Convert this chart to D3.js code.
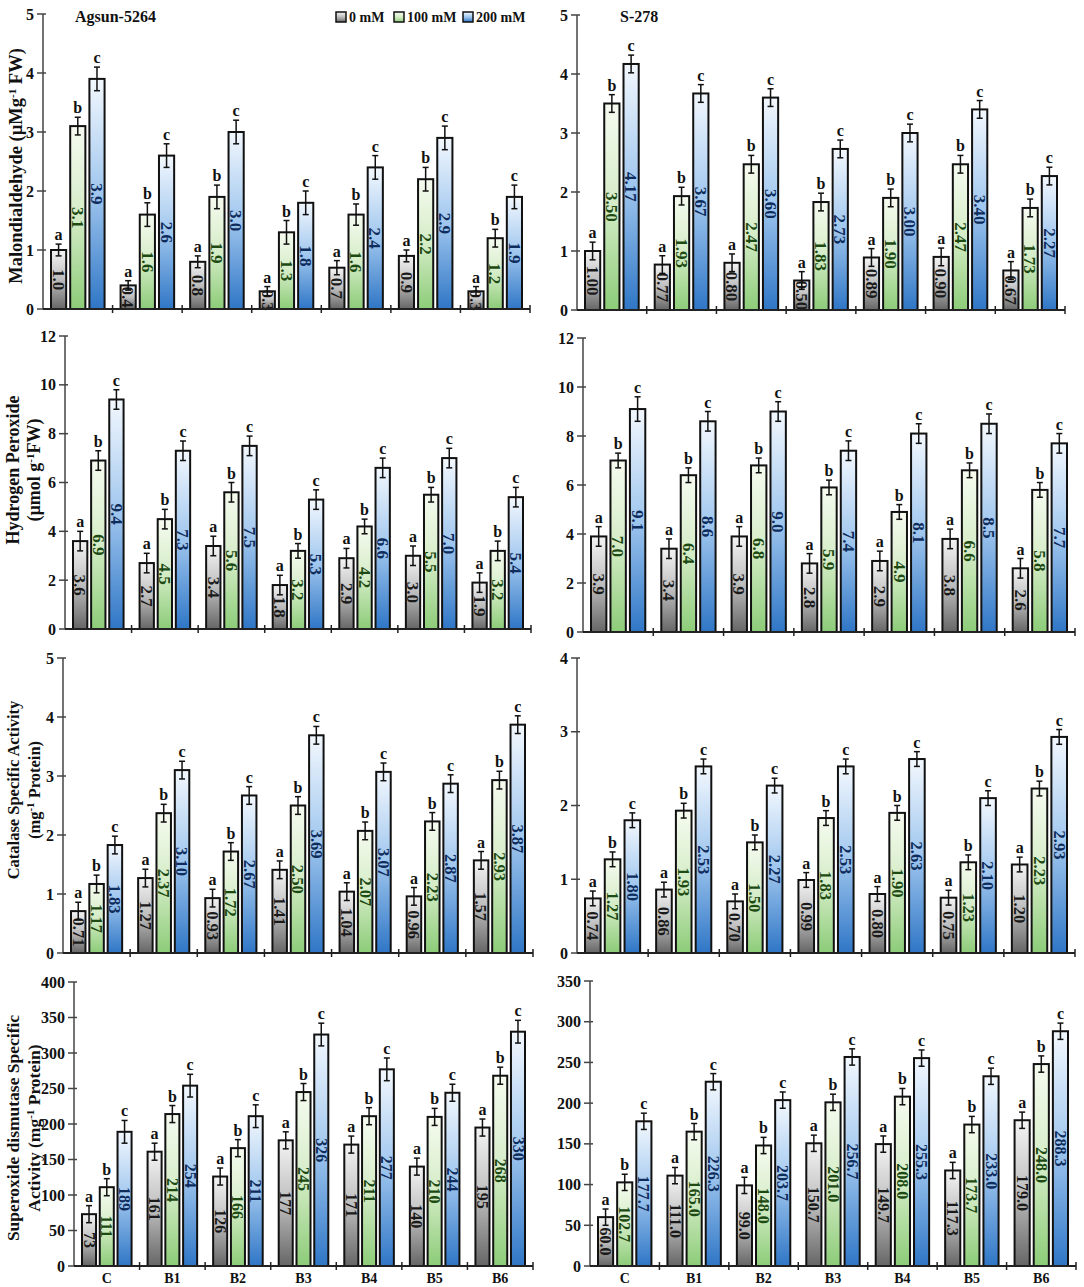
<!DOCTYPE html>
<html>
<head>
<meta charset="utf-8">
<script src="https://cdnjs.cloudflare.com/ajax/libs/d3/7.8.5/d3.min.js"></script>
<style>
  body { margin: 0; background: #fff; }
  svg { display: block; }
  text { font-family: "Liberation Serif", "Times New Roman", serif; font-weight: bold; }
</style>
</head>
<body>
<svg id="chart" width="1084" height="1287"></svg>
<script>
var categories = ["C", "B1", "B2", "B3", "B4", "B5", "B6"];
var seriesNames = ["0 mM", "100 mM", "200 mM"];
var letters = ["a", "b", "c"];

// Malondialdehyde
var mdaAgsun = [
  [1.0, 0.4, 0.8, 0.3, 0.7, 0.9, 0.3],
  [3.1, 1.6, 1.9, 1.3, 1.6, 2.2, 1.2],
  [3.9, 2.6, 3.0, 1.8, 2.4, 2.9, 1.9]
];
var mdaAgsunErr = [
  [0.1, 0.08, 0.1, 0.08, 0.12, 0.1, 0.08],
  [0.15, 0.2, 0.2, 0.2, 0.18, 0.2, 0.15],
  [0.2, 0.2, 0.2, 0.2, 0.2, 0.2, 0.2]
];
var mdaS278 = [
  [1.00, 0.77, 0.80, 0.50, 0.89, 0.90, 0.67],
  [3.50, 1.93, 2.47, 1.83, 1.90, 2.47, 1.73],
  [4.17, 3.67, 3.60, 2.73, 3.00, 3.40, 2.27]
];
var mdaS278Err = [
  [0.15, 0.15, 0.15, 0.15, 0.15, 0.15, 0.15],
  [0.15, 0.15, 0.15, 0.15, 0.15, 0.15, 0.15],
  [0.15, 0.15, 0.15, 0.15, 0.15, 0.15, 0.15]
];

// Hydrogen peroxide
var h2o2Agsun = [
  [3.6, 2.7, 3.4, 1.8, 2.9, 3.0, 1.9],
  [6.9, 4.5, 5.6, 3.2, 4.2, 5.5, 3.2],
  [9.4, 7.3, 7.5, 5.3, 6.6, 7.0, 5.4]
];
var h2o2AgsunErr = [
  [0.4, 0.4, 0.4, 0.4, 0.4, 0.4, 0.4],
  [0.4, 0.4, 0.4, 0.3, 0.3, 0.3, 0.4],
  [0.4, 0.4, 0.4, 0.4, 0.4, 0.4, 0.4]
];
var h2o2S278 = [
  [3.9, 3.4, 3.9, 2.8, 2.9, 3.8, 2.6],
  [7.0, 6.4, 6.8, 5.9, 4.9, 6.6, 5.8],
  [9.1, 8.6, 9.0, 7.4, 8.1, 8.5, 7.7]
];
var h2o2S278Err = [
  [0.4, 0.4, 0.4, 0.4, 0.4, 0.4, 0.4],
  [0.3, 0.3, 0.3, 0.3, 0.3, 0.3, 0.3],
  [0.5, 0.4, 0.4, 0.4, 0.4, 0.4, 0.4]
];

// Catalase
var catAgsun = [
  [0.71, 1.27, 0.93, 1.41, 1.04, 0.96, 1.57],
  [1.17, 2.37, 1.72, 2.50, 2.07, 2.23, 2.93],
  [1.83, 3.10, 2.67, 3.69, 3.07, 2.87, 3.87]
];
var catAgsunErr = [
  [0.15, 0.15, 0.15, 0.15, 0.15, 0.15, 0.15],
  [0.15, 0.15, 0.15, 0.15, 0.15, 0.15, 0.15],
  [0.15, 0.15, 0.15, 0.15, 0.15, 0.15, 0.15]
];
var catS278 = [
  [0.74, 0.86, 0.70, 0.99, 0.80, 0.75, 1.20],
  [1.27, 1.93, 1.50, 1.83, 1.90, 1.23, 2.23],
  [1.80, 2.53, 2.27, 2.53, 2.63, 2.10, 2.93]
];
var catS278Err = [
  [0.1, 0.1, 0.1, 0.1, 0.1, 0.1, 0.1],
  [0.1, 0.1, 0.1, 0.1, 0.1, 0.1, 0.1],
  [0.1, 0.1, 0.1, 0.1, 0.1, 0.1, 0.1]
];

// Superoxide dismutase
var sodAgsun = [
  [73, 161, 126, 177, 171, 140, 195],
  [111, 214, 166, 245, 211, 210, 268],
  [189, 254, 211, 326, 277, 244, 330]
];
var sodAgsunErr = [
  [12, 12, 12, 12, 12, 12, 12],
  [12, 12, 12, 12, 12, 12, 12],
  [16, 16, 16, 16, 16, 12, 16]
];
var sodS278 = [
  [60.0, 111.0, 99.0, 150.7, 149.7, 117.3, 179.0],
  [102.7, 165.0, 148.0, 201.0, 208.0, 173.7, 248.0],
  [177.7, 226.3, 203.7, 256.7, 255.3, 233.0, 288.3]
];
var sodS278Err = [
  [10, 10, 10, 10, 10, 10, 10],
  [10, 10, 10, 10, 10, 10, 10],
  [10, 10, 10, 10, 10, 10, 10]
];

var mdaTicks = [0, 1, 2, 3, 4, 5];
var h2o2Ticks = [0, 2, 4, 6, 8, 10, 12];
var catTicksL = [0, 1, 2, 3, 4, 5];
var catTicksR = [0, 1, 2, 3, 4];
var sodTicksL = [0, 50, 100, 150, 200, 250, 300, 350, 400];
var sodTicksR = [0, 50, 100, 150, 200, 250, 300, 350];

var panels = [
  {data: mdaAgsun, err: mdaAgsunErr, ticks: mdaTicks, dec: 1, vfs: 17, x0: 43, x1: 530, y0: 309, yTop: 14,
   title: "Agsun-5264", titleX: 75, legend: true,
   ylab: [["Malondialdehyde (µMg", "-1", " FW)"]], ylabX: [16], ylabY: 166, ylabFs: 18.5},
  {data: mdaS278, err: mdaS278Err, ticks: mdaTicks, dec: 2, vfs: 17, x0: 577, x1: 1065, y0: 310, yTop: 15,
   title: "S-278", titleX: 620},
  {data: h2o2Agsun, err: h2o2AgsunErr, ticks: h2o2Ticks, dec: 1, vfs: 17, x0: 65, x1: 531, y0: 629, yTop: 336,
   ylab: [["Hydrogen Peroxide"], ["(µmol g", "-1", "FW)"]], ylabX: [13, 34], ylabY: 470, ylabFs: 18},
  {data: h2o2S278, err: h2o2S278Err, ticks: h2o2Ticks, dec: 1, vfs: 17, x0: 583, x1: 1075, y0: 632, yTop: 338},
  {data: catAgsun, err: catAgsunErr, ticks: catTicksL, dec: 2, vfs: 16.5, x0: 63, x1: 533, y0: 953, yTop: 658,
   ylab: [["Catalase Specific Activity"], ["(mg", "-1", " Protein)"]], ylabX: [13, 34], ylabY: 790, ylabFs: 16.5},
  {data: catS278, err: catS278Err, ticks: catTicksR, dec: 2, vfs: 16.5, x0: 577, x1: 1075, y0: 953, yTop: 658},
  {data: sodAgsun, err: sodAgsunErr, ticks: sodTicksL, dec: 0, vfs: 16, x0: 74, x1: 533, y0: 1266, yTop: 982,
   ylab: [["Superoxide dismutase Specific"], ["Activity (mg", "-1", " Protein)"]], ylabX: [13, 34], ylabY: 1128, ylabFs: 17.5,
   xlabels: true},
  {data: sodS278, err: sodS278Err, ticks: sodTicksR, dec: 1, vfs: 16, x0: 590, x1: 1076, y0: 1266, yTop: 981,
   xlabels: true}
];

var fills = [
  {id: "gGray", top: "#f4f4f4", mid: "#bdbdbd", bot: "#666666"},
  {id: "gGreen", top: "#f6fbf0", mid: "#d4ecc6", bot: "#8ccc78"},
  {id: "gBlue", top: "#f3f8fe", mid: "#9fc6ee", bot: "#2f76c6"}
];
var labelColors = ["#1a1a1a", "#1c4a12", "#0e2c5c"];

var svg = d3.select("#chart");
var defs = svg.append("defs");
fills.forEach(function(f) {
  var g = defs.append("linearGradient").attr("id", f.id)
    .attr("x1", 0).attr("y1", 0).attr("x2", 0).attr("y2", 1);
  g.append("stop").attr("offset", "0%").attr("stop-color", f.top);
  g.append("stop").attr("offset", "50%").attr("stop-color", f.mid);
  g.append("stop").attr("offset", "100%").attr("stop-color", f.bot);
});

panels.forEach(drawPanel);

function drawPanel(p) {
  var g = svg.append("g");
  var x = d3.scaleBand().domain(categories).range([p.x0, p.x1]).paddingInner(0).paddingOuter(0);
  var cw = x.step();
  var xs = d3.scaleBand().domain([0, 1, 2]).range([8, cw - 8]).paddingInner(0.21);
  var y = d3.scaleLinear().domain([0, d3.max(p.ticks)]).range([p.y0, p.yTop]);

  // y axis
  g.append("line").attr("x1", p.x0).attr("x2", p.x0).attr("y1", p.y0).attr("y2", p.yTop)
    .attr("stroke", "#444").attr("stroke-width", 1.5);
  g.selectAll(".yt").data(p.ticks).enter().append("line")
    .attr("x1", p.x0 - 6).attr("x2", p.x0 + 3)
    .attr("y1", function(d) { return y(d); }).attr("y2", function(d) { return y(d); })
    .attr("stroke", "#444").attr("stroke-width", 1.5);
  g.selectAll(".ytl").data(p.ticks).enter().append("text")
    .attr("x", p.x0 - 9).attr("y", function(d) { return y(d); })
    .attr("dy", "0.35em").attr("text-anchor", "end")
    .style("font-size", "16px").attr("fill", "#111")
    .text(function(d) { return d; });

  // bars
  var rows = [];
  p.data.forEach(function(vals, s) {
    vals.forEach(function(v, i) {
      rows.push({s: s, c: categories[i], v: v, e: p.err[s][i]});
    });
  });
  var bx = function(d) { return x(d.c) + xs(d.s); };
  var bw = xs.bandwidth();

  g.selectAll(".bar").data(rows).enter().append("rect")
    .attr("x", bx).attr("y", function(d) { return y(d.v); })
    .attr("width", bw).attr("height", function(d) { return p.y0 - y(d.v); })
    .attr("fill", function(d) { return "url(#" + fills[d.s].id + ")"; })
    .attr("stroke", "#111").attr("stroke-width", 2);

  // value labels (rotated, centred in bar)
  g.selectAll(".vl").data(rows).enter().append("text")
    .attr("transform", function(d) {
      var cx = bx(d) + bw / 2, cy = (y(d.v) + p.y0) / 2;
      return "translate(" + cx + "," + cy + ") rotate(90)";
    })
    .attr("text-anchor", "middle").attr("dy", "0.34em")
    .style("font-size", p.vfs + "px")
    .attr("fill", function(d) { return labelColors[d.s]; })
    .text(function(d) { return d.v.toFixed(p.dec); });

  // error bars
  var eb = g.selectAll(".eb").data(rows).enter().append("g").attr("stroke", "#111").attr("stroke-width", 1.5);
  eb.append("line")
    .attr("x1", function(d) { return bx(d) + bw / 2; }).attr("x2", function(d) { return bx(d) + bw / 2; })
    .attr("y1", function(d) { return y(d.v + d.e); }).attr("y2", function(d) { return y(Math.max(0, d.v - d.e)); });
  eb.append("line")
    .attr("x1", function(d) { return bx(d) + bw / 2 - 3; }).attr("x2", function(d) { return bx(d) + bw / 2 + 3; })
    .attr("y1", function(d) { return y(d.v + d.e); }).attr("y2", function(d) { return y(d.v + d.e); });
  eb.append("line")
    .attr("x1", function(d) { return bx(d) + bw / 2 - 3; }).attr("x2", function(d) { return bx(d) + bw / 2 + 3; })
    .attr("y1", function(d) { return y(Math.max(0, d.v - d.e)); }).attr("y2", function(d) { return y(Math.max(0, d.v - d.e)); });

  // significance letters
  g.selectAll(".lt").data(rows).enter().append("text")
    .attr("x", function(d) { return bx(d) + bw / 2; })
    .attr("y", function(d) { return y(d.v + d.e) - 4; })
    .attr("text-anchor", "middle").style("font-size", "16px").attr("fill", "#111")
    .text(function(d) { return letters[d.s]; });

  // x axis
  g.append("line").attr("x1", p.x0).attr("x2", p.x1).attr("y1", p.y0).attr("y2", p.y0)
    .attr("stroke", "#222").attr("stroke-width", 2);
  g.selectAll(".xt").data(categories).enter().append("line")
    .attr("x1", function(d) { return x(d) + cw; }).attr("x2", function(d) { return x(d) + cw; })
    .attr("y1", p.y0 - 4).attr("y2", p.y0 + 4)
    .attr("stroke", "#222").attr("stroke-width", 1.5);

  if (p.xlabels) {
    g.selectAll(".xl").data(categories).enter().append("text")
      .attr("x", function(d) { return x(d) + cw / 2; }).attr("y", p.y0 + 17)
      .attr("text-anchor", "middle").style("font-size", "14px").attr("fill", "#111")
      .text(function(d) { return d; });
  }

  if (p.title) {
    g.append("text").attr("x", p.titleX).attr("y", 22)
      .style("font-size", "16px").attr("fill", "#111").text(p.title);
  }

  if (p.ylab) {
    p.ylab.forEach(function(parts, k) {
      var t = g.append("text")
        .attr("transform", "translate(" + p.ylabX[k] + "," + p.ylabY + ") rotate(-90)")
        .attr("text-anchor", "middle").attr("dy", "0.35em")
        .style("font-size", p.ylabFs + "px").attr("fill", "#111");
      parts.forEach(function(s, j) {
        var ts = t.append("tspan").text(s);
        if (j === 1) ts.attr("baseline-shift", "super").style("font-size", "11px");
      });
    });
  }

  if (p.legend) {
    var legX = [336, 394, 463];
    var lg = g.selectAll(".lg").data(seriesNames).enter().append("g")
      .attr("transform", function(d, i) { return "translate(" + legX[i] + ",12)"; });
    lg.append("rect").attr("width", 10).attr("height", 10)
      .attr("fill", function(d, i) { return "url(#" + fills[i].id + ")"; })
      .attr("stroke", "#111").attr("stroke-width", 1.5);
    lg.append("text").attr("x", 13).attr("y", 5).attr("dy", "0.35em")
      .style("font-size", "14px").attr("fill", "#111").text(function(d) { return d; });
  }
}
</script>
</body>
</html>
